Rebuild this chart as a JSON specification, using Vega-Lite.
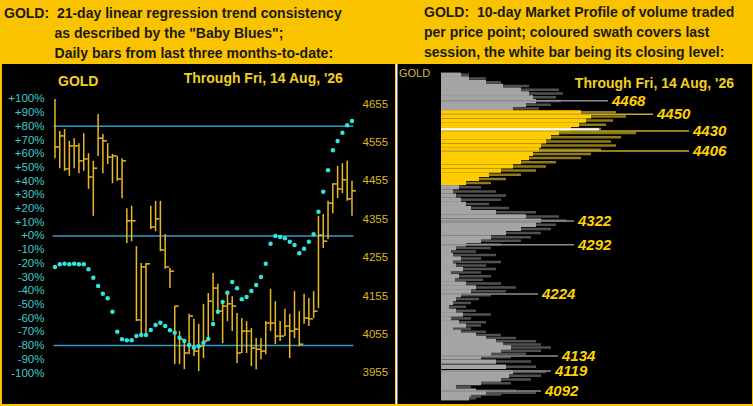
{
  "$schema": "https://vega.github.io/schema/vega-lite/v6.json",
  "background": "#f9c300",
  "padding": {"left": 2, "top": 6, "right": 2, "bottom": 3},
  "spacing": 0,
  "config": {
    "view": {"fill": "#000000", "stroke": null},
    "title": {"font": "Liberation Sans", "fontSize": 14, "fontWeight": "bold", "color": "#1c1a14", "anchor": "start", "lineHeight": 20, "offset": 3, "frame": "group", "baseline": "top"},
    "axis": {"grid": false, "domain": false, "ticks": false, "tickSize": 0, "labelFont": "Liberation Sans", "labelOverlap": false, "labelBound": false, "labelFlush": false},
    "concat": {"spacing": 0}
  },
  "datasets": {
    "ohlc": [
      {"i":0,"hi":4668,"lo":4514,"cl":4543,"pct":-22.6},
      {"i":1,"hi":4585,"lo":4488,"cl":4572,"pct":-20.7},
      {"i":2,"hi":4590,"lo":4481,"cl":4486,"pct":-20.2},
      {"i":3,"hi":4559,"lo":4468,"cl":4546,"pct":-20.7},
      {"i":4,"hi":4566,"lo":4488,"cl":4546,"pct":-20.2},
      {"i":5,"hi":4553,"lo":4475,"cl":4507,"pct":-20.7},
      {"i":6,"hi":4579,"lo":4481,"cl":4512,"pct":-20.7},
      {"i":7,"hi":4527,"lo":4434,"cl":4465,"pct":-24.3},
      {"i":8,"hi":4507,"lo":4364,"cl":4488,"pct":-30.4},
      {"i":9,"hi":4629,"lo":4520,"cl":4566,"pct":-36.5},
      {"i":10,"hi":4577,"lo":4475,"cl":4559,"pct":-42.1},
      {"i":11,"hi":4553,"lo":4499,"cl":4517,"pct":-45.5},
      {"i":12,"hi":4525,"lo":4449,"cl":4520,"pct":-55.3},
      {"i":13,"hi":4520,"lo":4455,"cl":4460,"pct":-69.9},
      {"i":14,"hi":4514,"lo":4410,"cl":4507,"pct":-75.4},
      {"i":15,"hi":4384,"lo":4293,"cl":4351,"pct":-76.1},
      {"i":16,"hi":4390,"lo":4298,"cl":4351,"pct":-76.1},
      {"i":17,"hi":4285,"lo":4090,"cl":4093,"pct":-73.0},
      {"i":18,"hi":4241,"lo":4051,"cl":4231,"pct":-72.3},
      {"i":19,"hi":4241,"lo":4056,"cl":4239,"pct":-72.3},
      {"i":20,"hi":4390,"lo":4330,"cl":4335,"pct":-68.6},
      {"i":21,"hi":4403,"lo":4324,"cl":4356,"pct":-65.0},
      {"i":22,"hi":4403,"lo":4272,"cl":4275,"pct":-63.3},
      {"i":23,"hi":4317,"lo":4226,"cl":4231,"pct":-65.7},
      {"i":24,"hi":4228,"lo":4176,"cl":4220,"pct":-68.8},
      {"i":25,"hi":4129,"lo":3978,"cl":4129,"pct":-70.6},
      {"i":26,"hi":4064,"lo":3978,"cl":4043,"pct":-74.2},
      {"i":27,"hi":4038,"lo":3965,"cl":4007,"pct":-76.6},
      {"i":28,"hi":4109,"lo":4004,"cl":4103,"pct":-79.6},
      {"i":29,"hi":4096,"lo":3999,"cl":4012,"pct":-81.5},
      {"i":30,"hi":4083,"lo":3960,"cl":4025,"pct":-80.5},
      {"i":31,"hi":4135,"lo":3994,"cl":4038,"pct":-77.9},
      {"i":32,"hi":4163,"lo":4046,"cl":4142,"pct":-75.2},
      {"i":33,"hi":4215,"lo":4090,"cl":4176,"pct":-64.2},
      {"i":34,"hi":4187,"lo":4109,"cl":4116,"pct":-55.3},
      {"i":35,"hi":4142,"lo":4033,"cl":4129,"pct":-48.2},
      {"i":36,"hi":4168,"lo":4090,"cl":4135,"pct":-41.4},
      {"i":37,"hi":4155,"lo":4064,"cl":4129,"pct":-33.6},
      {"i":38,"hi":4111,"lo":3981,"cl":4007,"pct":-38.2},
      {"i":39,"hi":4098,"lo":4007,"cl":4064,"pct":-46.2},
      {"i":40,"hi":4090,"lo":4007,"cl":4064,"pct":-44.5},
      {"i":41,"hi":4072,"lo":3973,"cl":4020,"pct":-40.1},
      {"i":42,"hi":4046,"lo":3965,"cl":4017,"pct":-35.8},
      {"i":43,"hi":4046,"lo":3991,"cl":4012,"pct":-29.9},
      {"i":44,"hi":4090,"lo":4004,"cl":4085,"pct":-20.2},
      {"i":45,"hi":4174,"lo":4064,"cl":4085,"pct":-5.6},
      {"i":46,"hi":4142,"lo":4030,"cl":4051,"pct":0.0},
      {"i":47,"hi":4090,"lo":4038,"cl":4051,"pct":-0.7},
      {"i":48,"hi":4122,"lo":4051,"cl":4077,"pct":-1.7},
      {"i":49,"hi":4109,"lo":3994,"cl":4064,"pct":-4.2},
      {"i":50,"hi":4168,"lo":4046,"cl":4069,"pct":-6.6},
      {"i":51,"hi":4116,"lo":4025,"cl":4030,"pct":-12.6},
      {"i":52,"hi":4161,"lo":4083,"cl":4098,"pct":-9.3},
      {"i":53,"hi":4150,"lo":4077,"cl":4096,"pct":-4.2},
      {"i":54,"hi":4168,"lo":4098,"cl":4116,"pct":1.2},
      {"i":55,"hi":4364,"lo":4124,"cl":4314,"pct":17.7},
      {"i":56,"hi":4369,"lo":4280,"cl":4298,"pct":32.3},
      {"i":57,"hi":4403,"lo":4304,"cl":4397,"pct":48.0},
      {"i":58,"hi":4449,"lo":4371,"cl":4447,"pct":62.6},
      {"i":59,"hi":4494,"lo":4410,"cl":4434,"pct":69.3},
      {"i":60,"hi":4501,"lo":4423,"cl":4458,"pct":75.4},
      {"i":61,"hi":4507,"lo":4403,"cl":4408,"pct":80.8},
      {"i":62,"hi":4455,"lo":4364,"cl":4429,"pct":83.9}
    ],
    "refs": [
      {"pct":80,"i":-0.3,"i2":62.3},
      {"pct":0,"i":-0.5,"i2":62.3},
      {"pct":-80,"i":-0.3,"i2":62.3}
    ],
    "profile": [
      {"p":4502.5,"g":20,"d":28},
      {"p":4497.5,"g":28,"d":45},
      {"p":4492.5,"g":45,"d":60},
      {"p":4487.5,"g":62,"d":88},
      {"p":4482.5,"g":80,"d":118},
      {"p":4477.5,"g":88,"d":122},
      {"p":4472.5,"g":92,"d":115},
      {"p":4467.5,"g":95,"d":120},
      {"p":4462.5,"g":85,"d":110},
      {"p":4457.5,"g":72,"d":98},
      {"p":4452.5,"g":140,"d":175},
      {"p":4447.5,"g":150,"d":185},
      {"p":4442.5,"g":145,"d":172},
      {"p":4437.5,"g":138,"d":165},
      {"p":4432.5,"g":130,"d":160},
      {"p":4427.5,"g":118,"d":195},
      {"p":4422.5,"g":110,"d":180},
      {"p":4417.5,"g":105,"d":170},
      {"p":4412.5,"g":100,"d":175},
      {"p":4407.5,"g":98,"d":160},
      {"p":4402.5,"g":92,"d":150},
      {"p":4397.5,"g":88,"d":140},
      {"p":4392.5,"g":80,"d":115},
      {"p":4387.5,"g":72,"d":105},
      {"p":4382.5,"g":60,"d":95},
      {"p":4377.5,"g":48,"d":80},
      {"p":4372.5,"g":38,"d":65},
      {"p":4367.5,"g":25,"d":50},
      {"p":4362.5,"g":18,"d":40},
      {"p":4357.5,"g":12,"d":55},
      {"p":4352.5,"g":15,"d":65},
      {"p":4347.5,"g":20,"d":60},
      {"p":4342.5,"g":25,"d":48},
      {"p":4337.5,"g":30,"d":68},
      {"p":4332.5,"g":55,"d":95},
      {"p":4327.5,"g":85,"d":118},
      {"p":4322.5,"g":100,"d":125},
      {"p":4317.5,"g":95,"d":115},
      {"p":4312.5,"g":80,"d":110},
      {"p":4307.5,"g":65,"d":100},
      {"p":4302.5,"g":50,"d":90},
      {"p":4297.5,"g":40,"d":80},
      {"p":4292.5,"g":25,"d":60},
      {"p":4287.5,"g":15,"d":50},
      {"p":4282.5,"g":10,"d":35},
      {"p":4277.5,"g":12,"d":55},
      {"p":4272.5,"g":20,"d":40},
      {"p":4267.5,"g":12,"d":60},
      {"p":4262.5,"g":15,"d":45},
      {"p":4257.5,"g":22,"d":55},
      {"p":4252.5,"g":10,"d":40},
      {"p":4247.5,"g":18,"d":50},
      {"p":4242.5,"g":14,"d":42},
      {"p":4237.5,"g":25,"d":60},
      {"p":4232.5,"g":35,"d":75},
      {"p":4227.5,"g":30,"d":65},
      {"p":4222.5,"g":20,"d":50},
      {"p":4217.5,"g":15,"d":38},
      {"p":4212.5,"g":12,"d":30},
      {"p":4207.5,"g":8,"d":25},
      {"p":4202.5,"g":15,"d":35},
      {"p":4197.5,"g":22,"d":50},
      {"p":4192.5,"g":10,"d":30},
      {"p":4187.5,"g":18,"d":45},
      {"p":4182.5,"g":25,"d":40},
      {"p":4177.5,"g":12,"d":30},
      {"p":4172.5,"g":20,"d":45},
      {"p":4167.5,"g":35,"d":60},
      {"p":4162.5,"g":45,"d":75},
      {"p":4157.5,"g":55,"d":95},
      {"p":4152.5,"g":62,"d":100},
      {"p":4147.5,"g":70,"d":110},
      {"p":4142.5,"g":60,"d":100},
      {"p":4137.5,"g":50,"d":85},
      {"p":4132.5,"g":40,"d":70},
      {"p":4127.5,"g":55,"d":90},
      {"p":4122.5,"g":65,"d":95},
      {"p":4117.5,"g":72,"d":105},
      {"p":4112.5,"g":68,"d":100},
      {"p":4107.5,"g":60,"d":90},
      {"p":4102.5,"g":40,"d":70},
      {"p":4097.5,"g":15,"d":30},
      {"p":4092.5,"g":35,"d":75},
      {"p":4087.5,"g":45,"d":95},
      {"p":4082.5,"g":30,"d":60},
      {"p":4077.5,"g":22,"d":40},
      {"p":4072.5,"g":28,"d":35}
    ],
    "peaks": [
      {"p":4468,"len":167},
      {"p":4450,"len":212},
      {"p":4430,"len":248},
      {"p":4406,"len":248},
      {"p":4322,"len":133},
      {"p":4292,"len":133},
      {"p":4224,"len":97},
      {"p":4134,"len":117},
      {"p":4119,"len":110},
      {"p":4092,"len":100}
    ],
    "closebar": [{"p": 4432, "len": 158}]
  },
  "hconcat": [
    {
      "width": 393,
      "height": 340,
      "title": {
        "text": [
          "GOLD:\u00a0 21-day linear regression trend consistency",
          "\u200b\u00a0\u00a0\u00a0\u00a0\u00a0\u00a0\u00a0\u00a0\u00a0\u00a0\u00a0\u00a0\u00a0as described by the \"Baby Blues\";",
          "\u200b\u00a0\u00a0\u00a0\u00a0\u00a0\u00a0\u00a0\u00a0\u00a0\u00a0\u00a0\u00a0\u00a0Daily bars from last three months-to-date:"
        ],
        "dx": 2
      },
      "layer": [
        {
          "data": {"name": "refs"},
          "mark": {"type": "rule", "color": "#3399cc", "strokeWidth": 1.5},
          "encoding": {
            "x": {
              "field": "i",
              "type": "quantitative",
              "scale": {"domain": [-11.06, 70.98], "nice": false, "zero": false},
              "axis": {
                "title": null,
                "orient": "bottom",
                "offset": -20,
                "values": [0, 21, 42],
                "labelExpr": "datum.value == 0 ? \"May'26\" : datum.value == 21 ? \"Jun'26\" : \"Jul'26\"",
                "labelColor": "#e4e4e4",
                "labelFontSize": 11.5,
                "labelPadding": 0,
                "labelBaseline": "top"
              }
            },
            "x2": {"field": "i2"},
            "y": {
              "field": "pct",
              "type": "quantitative",
              "scale": {"domain": [-122.6, 125.5], "nice": false, "zero": false},
              "axis": {
                "title": null,
                "orient": "left",
                "offset": -42,
                "values": [-100, -90, -80, -70, -60, -50, -40, -30, -20, -10, 0, 10, 20, 30, 40, 50, 60, 70, 80, 90, 100],
                "labelExpr": "(datum.value >= 0 ? '+' : '') + datum.value + '%'",
                "labelColor": "#3ccbcb",
                "labelFontSize": 11.5,
                "labelPadding": 0,
                "labelAlign": "right",
                "labelBaseline": "middle"
              }
            }
          }
        },
        {
          "data": {"name": "ohlc"},
          "mark": {"type": "rule", "color": "#e9b824", "strokeWidth": 1.5},
          "encoding": {
            "x": {"field": "i", "type": "quantitative", "scale": {"domain": [-11.06, 70.98], "nice": false, "zero": false}, "axis": null},
            "y": {
              "field": "hi",
              "type": "quantitative",
              "scale": {"domain": [3874.3, 4759.1], "nice": false, "zero": false},
              "axis": {
                "title": null,
                "orient": "right",
                "offset": -33,
                "values": [3955, 4055, 4155, 4255, 4355, 4455, 4555, 4655],
                "format": "d",
                "labelColor": "#dab820",
                "labelFontSize": 11.5,
                "labelPadding": 0,
                "labelAlign": "left",
                "labelBaseline": "middle"
              }
            },
            "y2": {"field": "lo"}
          }
        },
        {
          "data": {"name": "ohlc"},
          "mark": {"type": "tick", "orient": "horizontal", "size": 4, "thickness": 1.5, "xOffset": 2, "color": "#e9b824", "opacity": 1},
          "encoding": {
            "x": {"field": "i", "type": "quantitative", "scale": {"domain": [-11.06, 70.98], "nice": false, "zero": false}, "axis": null},
            "y": {"field": "cl", "type": "quantitative", "scale": {"domain": [3874.3, 4759.1], "nice": false, "zero": false}, "axis": null}
          }
        },
        {
          "data": {"name": "ohlc"},
          "mark": {"type": "point", "filled": true, "color": "#2ee6de", "size": 20, "opacity": 1},
          "encoding": {
            "x": {"field": "i", "type": "quantitative", "scale": {"domain": [-11.06, 70.98], "nice": false, "zero": false}, "axis": null},
            "y": {"field": "pct", "type": "quantitative", "scale": {"domain": [-122.6, 125.5], "nice": false, "zero": false}, "axis": null}
          }
        },
        {
          "data": {"values": [{"i": 0.63, "pct": 112.4, "t": "GOLD"}]},
          "mark": {"type": "text", "align": "left", "baseline": "middle", "font": "Liberation Sans", "fontSize": 14, "fontWeight": "bold", "color": "#f2d01e"},
          "encoding": {
            "x": {"field": "i", "type": "quantitative", "scale": {"domain": [-11.06, 70.98], "nice": false, "zero": false}, "axis": null},
            "y": {"field": "pct", "type": "quantitative", "scale": {"domain": [-122.6, 125.5], "nice": false, "zero": false}, "axis": null},
            "text": {"field": "t", "type": "nominal"}
          }
        },
        {
          "data": {"values": [{"i": 60.1, "pct": 114.6, "t": "Through Fri, 14 Aug, '26"}]},
          "mark": {"type": "text", "align": "right", "baseline": "middle", "font": "Liberation Sans", "fontSize": 14, "fontWeight": "bold", "color": "#f2d01e"},
          "encoding": {
            "x": {"field": "i", "type": "quantitative", "scale": {"domain": [-11.06, 70.98], "nice": false, "zero": false}, "axis": null},
            "y": {"field": "pct", "type": "quantitative", "scale": {"domain": [-122.6, 125.5], "nice": false, "zero": false}, "axis": null},
            "text": {"field": "t", "type": "nominal"}
          }
        }
      ],
      "resolve": {"scale": {"y": "independent"}, "axis": {"y": "independent"}}
    },
    {
      "width": 356,
      "height": 340,
      "title": {
        "text": [
          "GOLD:\u00a0 10-day Market Profile of volume traded",
          "per price point; coloured swath covers last",
          "session, the white bar being its closing level:"
        ],
        "dx": 28
      },
      "layer": [
        {
          "data": {"name": "profile"},
          "mark": {"type": "bar", "orient": "horizontal", "size": 2.5},
          "encoding": {
            "x": {"field": "d", "type": "quantitative", "scale": {"domain": [-45, 311], "nice": false, "zero": false}, "axis": null},
            "y": {
              "field": "p",
              "type": "quantitative",
              "scale": {"domain": [4064, 4092, 4119, 4125, 4134, 4187, 4243, 4302, 4352, 4402, 4452, 4510], "range": [340, 327, 307, 299.7, 292, 258.7, 215.3, 173.7, 132, 90.3, 48.7, 0], "nice": false, "zero": false},
              "axis": {
                "title": null,
                "orient": "left",
                "offset": -35,
                "values": [4125, 4187, 4243, 4302, 4352, 4402, 4452],
                "format": "d",
                "labelColor": "#e2c21c",
                "labelFontSize": 11.5,
                "labelPadding": 0,
                "labelAlign": "right",
                "labelBaseline": "middle"
              }
            },
            "color": {"condition": {"test": "datum.p > 4365 && datum.p < 4455", "value": "#8f7b1a"}, "value": "#505050"}
          }
        },
        {
          "data": {"name": "profile"},
          "mark": {"type": "bar", "orient": "horizontal", "size": 4.3},
          "encoding": {
            "x": {"field": "g", "type": "quantitative", "scale": {"domain": [-45, 311], "nice": false, "zero": false}, "axis": null},
            "y": {"field": "p", "type": "quantitative", "scale": {"domain": [4064, 4092, 4119, 4125, 4134, 4187, 4243, 4302, 4352, 4402, 4452, 4510], "range": [340, 327, 307, 299.7, 292, 258.7, 215.3, 173.7, 132, 90.3, 48.7, 0], "nice": false, "zero": false}, "axis": null},
            "color": {"condition": {"test": "datum.p > 4365 && datum.p < 4455", "value": "#ffcc00"}, "value": "#a4a4a4"}
          }
        },
        {
          "data": {"name": "peaks"},
          "mark": {"type": "bar", "orient": "horizontal", "size": 1.5},
          "encoding": {
            "x": {"field": "len", "type": "quantitative", "scale": {"domain": [-45, 311], "nice": false, "zero": false}, "axis": null},
            "y": {"field": "p", "type": "quantitative", "scale": {"domain": [4064, 4092, 4119, 4125, 4134, 4187, 4243, 4302, 4352, 4402, 4452, 4510], "range": [340, 327, 307, 299.7, 292, 258.7, 215.3, 173.7, 132, 90.3, 48.7, 0], "nice": false, "zero": false}, "axis": null},
            "color": {"condition": {"test": "datum.p > 4365 && datum.p < 4455", "value": "#c8a830"}, "value": "#8a8f96"}
          }
        },
        {
          "data": {"name": "closebar"},
          "mark": {"type": "bar", "orient": "horizontal", "size": 2, "color": "#ffffff"},
          "encoding": {
            "x": {"field": "len", "type": "quantitative", "scale": {"domain": [-45, 311], "nice": false, "zero": false}, "axis": null},
            "y": {"field": "p", "type": "quantitative", "scale": {"domain": [4064, 4092, 4119, 4125, 4134, 4187, 4243, 4302, 4352, 4402, 4452, 4510], "range": [340, 327, 307, 299.7, 292, 258.7, 215.3, 173.7, 132, 90.3, 48.7, 0], "nice": false, "zero": false}, "axis": null}
          }
        },
        {
          "data": {"name": "peaks"},
          "mark": {"type": "text", "align": "left", "baseline": "middle", "dx": 4, "font": "Liberation Sans", "fontSize": 15, "fontWeight": "bold", "fontStyle": "italic", "color": "#ffd200"},
          "encoding": {
            "x": {"field": "len", "type": "quantitative", "scale": {"domain": [-45, 311], "nice": false, "zero": false}, "axis": null},
            "y": {"field": "p", "type": "quantitative", "scale": {"domain": [4064, 4092, 4119, 4125, 4134, 4187, 4243, 4302, 4352, 4402, 4452, 4510], "range": [340, 327, 307, 299.7, 292, 258.7, 215.3, 173.7, 132, 90.3, 48.7, 0], "nice": false, "zero": false}, "axis": null},
            "text": {"field": "p", "type": "quantitative", "format": "d"}
          }
        },
        {
          "data": {"values": [{"v": -42, "p": 4502.9, "t": "GOLD"}]},
          "mark": {"type": "text", "align": "left", "baseline": "middle", "font": "Liberation Sans", "fontSize": 11, "color": "#cdb844"},
          "encoding": {
            "x": {"field": "v", "type": "quantitative", "scale": {"domain": [-45, 311], "nice": false, "zero": false}, "axis": null},
            "y": {"field": "p", "type": "quantitative", "scale": {"domain": [4064, 4092, 4119, 4125, 4134, 4187, 4243, 4302, 4352, 4402, 4452, 4510], "range": [340, 327, 307, 299.7, 292, 258.7, 215.3, 173.7, 132, 90.3, 48.7, 0], "nice": false, "zero": false}, "axis": null},
            "text": {"field": "t", "type": "nominal"}
          }
        },
        {
          "data": {"values": [{"v": 293, "p": 4489.8, "t": "Through Fri, 14 Aug, '26"}]},
          "mark": {"type": "text", "align": "right", "baseline": "middle", "font": "Liberation Sans", "fontSize": 14, "fontWeight": "bold", "color": "#f2d01e"},
          "encoding": {
            "x": {"field": "v", "type": "quantitative", "scale": {"domain": [-45, 311], "nice": false, "zero": false}, "axis": null},
            "y": {"field": "p", "type": "quantitative", "scale": {"domain": [4064, 4092, 4119, 4125, 4134, 4187, 4243, 4302, 4352, 4402, 4452, 4510], "range": [340, 327, 307, 299.7, 292, 258.7, 215.3, 173.7, 132, 90.3, 48.7, 0], "nice": false, "zero": false}, "axis": null},
            "text": {"field": "t", "type": "nominal"}
          }
        },
        {
          "data": {"values": [{"v": -44.3}]},
          "mark": {"type": "rule", "color": "#ffffff", "strokeWidth": 1.5},
          "encoding": {
            "x": {"field": "v", "type": "quantitative", "scale": {"domain": [-45, 311], "nice": false, "zero": false}, "axis": null}
          }
        }
      ]
    }
  ]
}
